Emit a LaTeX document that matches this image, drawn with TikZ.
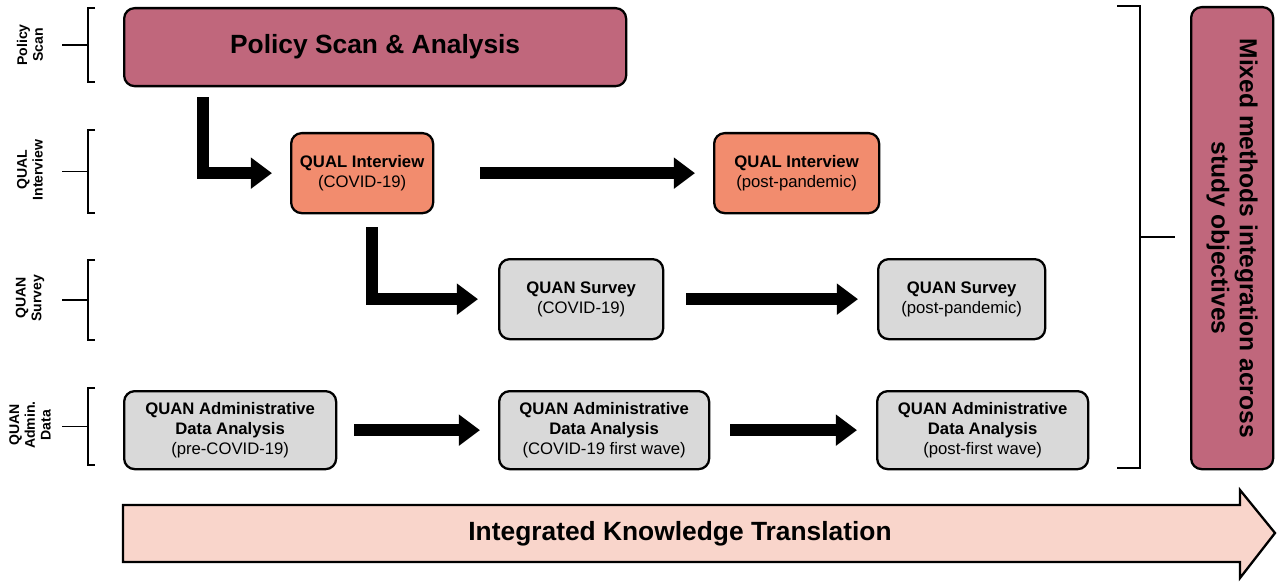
\documentclass[tikz,border=0pt]{standalone}
\usepackage{fontspec}
\setmainfont{Liberation Sans}
\usetikzlibrary{arrows.meta}

\definecolor{policyred}{HTML}{C0677C}
\definecolor{qualorange}{HTML}{F28C6E}
\definecolor{quangray}{HTML}{D9D9D9}
\definecolor{iktpink}{HTML}{F9D5CB}

\tikzset{
	box/.style={draw=black, line width=1.3pt, rounded corners=6pt, align=center, font=\fontsize{9.5}{11.5}\selectfont, inner sep=0pt},
	bigarrow/.style={line width=7pt, -{Triangle[length=12pt,width=17pt]}},
	rowlabel/.style={rotate=90, align=center, font=\bfseries\fontsize{8}{9}\selectfont},
	brace/.style={line width=1pt}
}

\begin{document}
\begin{tikzpicture}[x=0.02cm, y=-0.02cm]
	\useasboundingbox (0,0) rectangle (1280,584);

	% row labels
	\node [rowlabel] (lpolicy) at (30,45) {Policy\\Scan};
	\node [rowlabel] (lqual) at (30,170) {QUAL\\Interview};
	\node [rowlabel] (lsurvey) at (30,298) {QUAN\\Survey};
	\node [rowlabel] (ladmin) at (30,425) {QUAN\\Admin.\\Data};

	% brackets
	\foreach \ya/\yb in {8/82, 130/213, 260/340, 388/465} {
		\draw [brace] (95,\ya) -- (88,\ya) -- (88,\yb) -- (95,\yb);
		\draw [brace] (62,{(\ya+\yb)/2}) -- (88,{(\ya+\yb)/2});
	}

	% boxes
	\node [box, fill=policyred, minimum width=502*0.02cm, minimum height=78*0.02cm, anchor=north west, font=\bfseries\fontsize{15}{17}\selectfont] (policy) at (123,7) {Policy Scan \& Analysis};
	\node [box, fill=qualorange, minimum width=142*0.02cm, minimum height=80*0.02cm, anchor=north west] (qualcovid) at (290,132) {\textbf{QUAL Interview}\\(COVID-19)};
	\node [box, fill=qualorange, minimum width=165*0.02cm, minimum height=80*0.02cm, anchor=north west] (qualpost) at (713,132) {\textbf{QUAL Interview}\\(post-pandemic)};
	\node [box, fill=quangray, minimum width=164*0.02cm, minimum height=80*0.02cm, anchor=north west] (surveycovid) at (498,258) {\textbf{QUAN Survey}\\(COVID-19)};
	\node [box, fill=quangray, minimum width=167*0.02cm, minimum height=80*0.02cm, anchor=north west] (surveypost) at (877,258) {\textbf{QUAN Survey}\\(post-pandemic)};
	\node [box, fill=quangray, minimum width=212*0.02cm, minimum height=78*0.02cm, anchor=north west] (adminpre) at (123,390) {\textbf{QUAN Administrative}\\\textbf{Data Analysis}\\(pre-COVID-19)};
	\node [box, fill=quangray, minimum width=210*0.02cm, minimum height=78*0.02cm, anchor=north west] (adminfirst) at (498,390) {\textbf{QUAN Administrative}\\\textbf{Data Analysis}\\(COVID-19 first wave)};
	\node [box, fill=quangray, minimum width=211*0.02cm, minimum height=78*0.02cm, anchor=north west] (adminpost) at (876,390) {\textbf{QUAN Administrative}\\\textbf{Data Analysis}\\(post-first wave)};

	% mixed methods box
	\node [box, fill=policyred, minimum width=82*0.02cm, minimum height=462*0.02cm, anchor=north west] (mixed) at (1190,6) {};
	\node [rotate=-90, align=center, font=\bfseries\fontsize{14}{16}\selectfont] (mixedtext) at (mixed.center) {Mixed methods integration across\\study objectives};

	% right bracket
	\draw [brace] (1117,6) -- (1140,6) -- (1140,468) -- (1117,468);
	\coordinate (tick) at (1175,237);
	\draw [brace] (1140,237) -- (tick);

	% arrows
	\draw [bigarrow, shorten <=10*0.02cm, shorten >=18*0.02cm] ([xshift=80*0.02cm]policy.south west) |- (qualcovid.west);
	\draw [bigarrow, shorten <=13*0.02cm, shorten >=20*0.02cm] ([xshift=82*0.02cm]qualcovid.south west) |- (surveycovid.west);
	\draw [bigarrow, shorten <=46*0.02cm, shorten >=18*0.02cm] (qualcovid) -- (qualpost);
	\draw [bigarrow, shorten <=22*0.02cm, shorten >=19*0.02cm] (surveycovid) -- (surveypost);
	\draw [bigarrow, shorten <=17*0.02cm, shorten >=18*0.02cm] (adminpre) -- (adminfirst);
	\draw [bigarrow, shorten <=20*0.02cm, shorten >=19*0.02cm] (adminfirst) -- (adminpost);

	% knowledge translation
	\draw [line width=1.3pt, fill=iktpink] (123,505) -- (1240,505) -- (1240,490) -- (1275,533) -- (1240,578) -- (1240,562) -- (123,562) -- cycle;
	\node [font=\bfseries\fontsize{15}{17}\selectfont] (ikt) at (680,534) {Integrated Knowledge Translation};
\end{tikzpicture}
\end{document}
